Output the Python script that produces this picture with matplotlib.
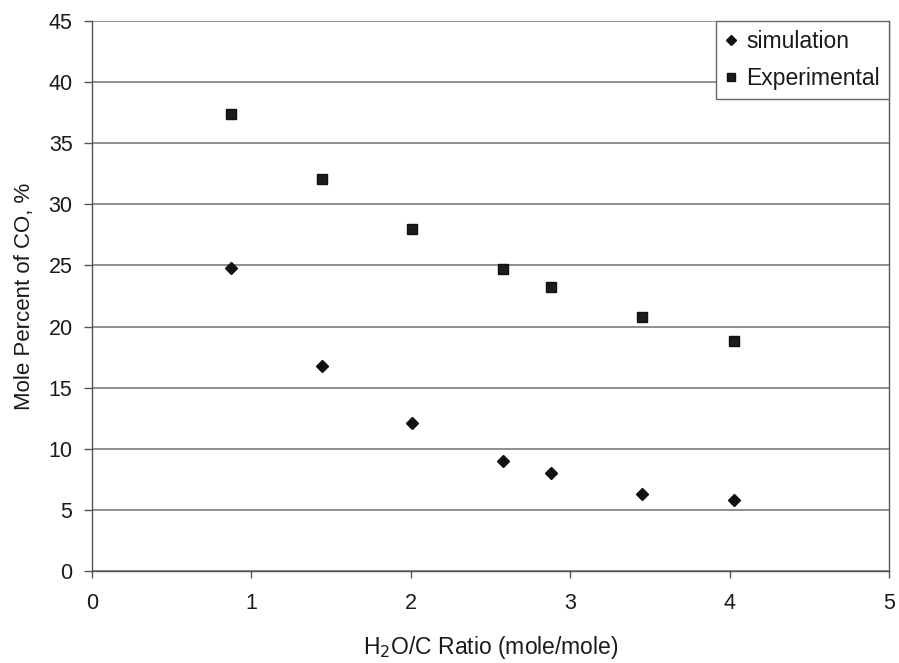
import matplotlib
matplotlib.use("Agg")
import matplotlib.pyplot as plt

plt.rcParams['font.family'] = ['Liberation Sans', 'DejaVu Sans']

# H2O/C ratio and CO mole percent
ratio = [0.87, 1.44, 2.01, 2.58, 2.88, 3.45, 4.03]
simulation = [24.8, 16.8, 12.1, 9.0, 8.0, 6.3, 5.8]
experimental = [37.4, 32.1, 28.0, 24.7, 23.2, 20.8, 18.8]

x_ticks = [0, 1, 2, 3, 4, 5]
y_ticks = [0, 5, 10, 15, 20, 25, 30, 35, 40, 45]

fig = plt.figure(figsize=(8.99, 6.63), dpi=100)
ax = fig.add_axes([0.1023, 0.1388, 0.8866, 0.8295])

ax.set_xlim(0, 5)
ax.set_ylim(0, 45)
ax.set_xticks(x_ticks)
ax.set_yticks(y_ticks)

ax.yaxis.grid(True, color='#707070', linewidth=1.1, linestyle='-')
ax.set_axisbelow(True)

for side in ['left', 'bottom', 'right']:
    ax.spines[side].set_color('#555555')
    ax.spines[side].set_linewidth(1.0)
ax.spines['top'].set_visible(False)

ax.tick_params(axis='y', direction='out', length=6, width=1, color='#555555',
               pad=8, labelsize=15.5, labelcolor='#1a1a1a')
ax.tick_params(axis='x', direction='out', length=5, width=1, color='#555555',
               pad=11, labelsize=15.5, labelcolor='#1a1a1a')

ax.plot(ratio, simulation, linestyle='none', marker='D', markersize=6,
        color='#111111', label='simulation', zorder=3)
ax.plot(ratio, experimental, linestyle='none', marker='s', markersize=7.5,
        color='#1c1c1c', markeredgecolor='#111111', label='Experimental', zorder=3)

ax.set_xlabel('H$_2$O/C Ratio (mole/mole)', fontsize=16.5, color='#1a1a1a', labelpad=14)
ax.set_ylabel('Mole Percent of CO, %', fontsize=16, color='#1a1a1a', labelpad=10)

leg = ax.legend(loc='upper right', bbox_to_anchor=(1.0, 1.0), borderaxespad=0,
                fancybox=False, framealpha=1, edgecolor='#666666', fontsize=16.5,
                handlelength=0.45, handletextpad=0.45, borderpad=0.4,
                labelspacing=0.6, markerscale=0.85)
leg.get_frame().set_linewidth(1.0)
for t in leg.get_texts():
    t.set_color('#1a1a1a')

fig.savefig('out.png', dpi=100, facecolor='white')
